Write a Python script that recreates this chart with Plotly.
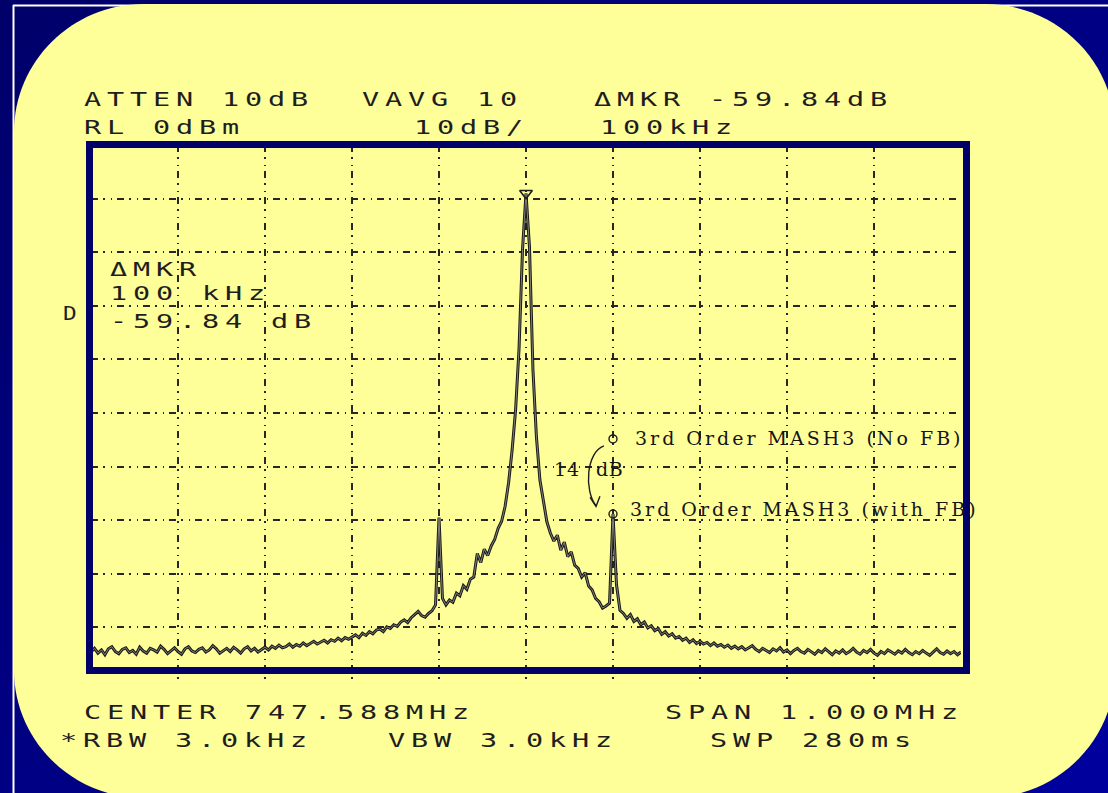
import base64
import json
import plotly.graph_objects as go

# ---------------------------------------------------------------------------
# Spectrum analyser sweep: 251 bins, 4 kHz apart, centred on the carrier
# ---------------------------------------------------------------------------
START_KHZ = -500
BIN_KHZ = 4

DELTA_MKR_DB = -59.84      # delta marker reading (carrier -> 100 kHz spur)
FB_GAIN_DB = 14            # spur improvement with feedback

carrier_peak = -9.0
spur_low = -69.5
spur_high = carrier_peak + DELTA_MKR_DB

floor_low = [
    -94.6, -93.9, -94.8, -94.2, -95.1, -94.0, -93.6, -94.5, -94.9, -94.1,
    -93.8, -94.7, -94.3, -95.0, -93.7, -94.4, -94.8, -93.9, -94.2, -94.6,
    -93.5, -94.1, -94.9, -94.3, -93.8, -94.5, -95.0, -94.0, -93.6, -94.4,
    -94.7, -94.1, -93.8, -94.6, -94.2, -93.4, -94.0, -94.8, -94.3, -93.9,
    -94.5, -93.7, -94.2, -94.8, -94.0, -93.6, -94.4, -93.9, -94.6, -94.1,
    -93.7, -94.2, -93.5, -93.9, -93.3, -93.8, -93.6, -93.1, -93.7, -93.2,
    -93.5, -92.9, -93.4, -93.0, -92.6, -93.1, -92.7, -92.4, -92.9, -92.3,
    -92.6, -92.0, -92.5, -91.9, -92.2,
]
skirt_low = [
    -91.8, -91.4, -91.9, -91.1, -91.5, -90.8, -91.2, -90.5, -90.3, -90.8,
    -89.9, -90.2, -89.5, -89.8, -89.0, -88.6, -89.1, -88.2, -87.6, -87.0,
    -87.8, -88.1, -87.4, -86.9, -85.8,
]
flank_low = [
    -84.6, -85.8, -84.9, -85.3, -83.6, -84.1, -82.2, -82.9, -81.0, -80.6,
    -76.2, -77.9, -75.4, -76.6, -74.8, -73.6, -71.5, -70.2, -67.4, -63.0,
    -57.0, -49.5, -38.0, -19.5,
]
flank_high = [
    -19.0, -42.0, -54.5, -62.5, -66.8, -70.3, -72.4, -73.9, -72.8, -75.6,
    -74.1, -76.8, -75.9, -78.4, -79.0, -80.6, -79.8, -82.3, -83.0, -84.6,
    -85.2, -86.4, -86.0, -85.5,
]
skirt_high = [
    -82.0, -86.8, -87.4, -88.3, -87.6, -88.9, -88.4, -89.5, -89.0, -90.1,
    -89.7, -90.6, -90.2, -91.3, -90.8, -91.6, -91.2, -92.0, -91.7, -92.4,
    -92.0, -92.8, -92.3, -93.0,
]
floor_high = [
    -92.6, -93.1, -92.8, -93.4, -92.9, -93.5, -93.2, -93.7, -93.3, -93.9,
    -93.5, -94.0, -93.6, -94.2, -93.8, -93.4, -94.1, -94.5, -93.9, -94.3,
    -94.7, -94.0, -94.4, -93.8, -94.6, -94.2, -94.9, -94.3, -93.9, -94.5,
    -94.8, -94.1, -94.6, -95.0, -94.3, -94.7, -94.0, -94.5, -95.1, -94.4,
    -94.8, -94.2, -94.9, -94.5, -93.9, -94.6, -95.0, -94.3, -94.7, -94.1,
    -94.8, -95.2, -94.5, -94.9, -94.2, -94.6, -95.0, -94.4, -94.8, -94.1,
    -94.7, -95.1, -94.5, -94.9, -94.3, -94.8, -95.2, -94.6, -94.0, -94.7,
    -95.0, -94.4, -94.9, -94.5, -95.1, -94.6,
]

trace_dbm = (floor_low + skirt_low + [spur_low] + flank_low + [carrier_peak]
             + flank_high + [spur_high] + skirt_high + floor_high)
sweep_khz = [START_KHZ + BIN_KHZ * i for i in range(len(trace_dbm))]

# graticule: 10 x 10 divisions, 100 kHz/div and 10 dB/div
freq_divs_khz = [-500, -400, -300, -200, -100, 0, 100, 200, 300, 400, 500]
level_divs_dbm = [0, -10, -20, -30, -40, -50, -60, -70, -80, -90, -100]

# marker positions taken from the sweep
pk_i = trace_dbm.index(max(trace_dbm))
pk_x, pk_y = sweep_khz[pk_i], trace_dbm[pk_i]
sb_i = trace_dbm.index(spur_high)
sb_x = sweep_khz[sb_i]
sb_lo = spur_high
sb_hi = spur_high + FB_GAIN_DB

# ---------------------------------------------------------------------------
# page geometry (pixels)
# ---------------------------------------------------------------------------
FIG_W, FIG_H = 1108, 793
L, T, W, H = 91, 145, 870, 536


def fx(px):
    return (px - L) / W


def fy(py):
    return 1 - (py - T) / H


INK = "#1c1c1c"
NAVY = "#000068"
PAPER = "#FFFF99"

fig = go.Figure()

# photocopied trace: dark outline with a pale core
fig.add_trace(go.Scatter(
    x=sweep_khz, y=trace_dbm, mode="lines",
    line=dict(color="#1a1a1a", width=3.0), hoverinfo="skip",
))
fig.add_trace(go.Scatter(
    x=sweep_khz, y=trace_dbm, mode="lines",
    line=dict(color="#8c8c80", width=0.9), hoverinfo="skip",
))
fig.add_trace(go.Scatter(
    x=[pk_x], y=[pk_y], mode="markers", hoverinfo="skip",
    marker=dict(symbol="triangle-down-open", size=11, color=INK,
                line=dict(color=INK, width=1.6)),
))
fig.add_trace(go.Scatter(
    x=[sb_x, sb_x], y=[sb_hi, sb_lo], mode="markers", hoverinfo="skip",
    marker=dict(symbol="circle-open", size=8, color=INK,
                line=dict(color=INK, width=1.4)),
))

# ---------------------------------------------------------------------------
# background: gradient slide, white rule lines, rounded yellow panel, frame
# ---------------------------------------------------------------------------
grad_svg = (
    '<svg xmlns="http://www.w3.org/2000/svg" width="1108" height="793">'
    '<defs><linearGradient id="g" x1="0" y1="0" x2="1" y2="1">'
    '<stop offset="0" stop-color="#00006a"/>'
    '<stop offset="1" stop-color="#00009e"/>'
    '</linearGradient></defs>'
    '<rect width="1108" height="793" fill="url(#g)"/></svg>'
)
grad_src = "data:image/svg+xml;base64," + base64.b64encode(grad_svg.encode()).decode()


def rounded_rect(x0, y0, x1, y1, rx, ry):
    k = 0.5523
    pts = [
        ("M", [(x0 + rx, y0)]),
        ("L", [(x1 - rx, y0)]),
        ("C", [(x1 - rx + k * rx, y0), (x1, y0 + ry - k * ry), (x1, y0 + ry)]),
        ("L", [(x1, y1 - ry)]),
        ("C", [(x1, y1 - ry + k * ry), (x1 - rx + k * rx, y1), (x1 - rx, y1)]),
        ("L", [(x0 + rx, y1)]),
        ("C", [(x0 + rx - k * rx, y1), (x0, y1 - ry + k * ry), (x0, y1 - ry)]),
        ("L", [(x0, y0 + ry)]),
        ("C", [(x0, y0 + ry - k * ry), (x0 + rx - k * rx, y0), (x0 + rx, y0)]),
    ]
    out = []
    for cmd, pp in pts:
        out.append(cmd + " " + " ".join(f"{fx(a):.5f},{fy(b):.5f}" for a, b in pp))
    return " ".join(out) + " Z"


shapes = [
    dict(type="line", xref="paper", yref="paper", layer="below",
         x0=fx(13.5), x1=fx(13.5), y0=fy(5), y1=fy(793),
         line=dict(color="white", width=2)),
    dict(type="line", xref="paper", yref="paper", layer="below",
         x0=fx(13), x1=fx(1108), y0=fy(5.5), y1=fy(5.5),
         line=dict(color="white", width=2)),
    dict(type="path", xref="paper", yref="paper", layer="below",
         path=rounded_rect(14, 4, 1115, 798, 130, 128),
         fillcolor=PAPER, line=dict(width=0)),
    dict(type="rect", xref="paper", yref="paper", layer="above",
         x0=fx(89.5), x1=fx(966.5), y0=fy(144.5), y1=fy(670.5),
         line=dict(color=NAVY, width=7), fillcolor="rgba(0,0,0,0)"),
    # hand-drawn curved arrow between the two spur levels
    dict(type="path", xref="x", yref="y", layer="above",
         path=(f"M {sb_x - 10.4},{sb_hi - 1.3} "
               f"C {sb_x - 31},{sb_hi - 2.5} {sb_x - 33.3},{sb_lo + 4.4} "
               f"{sb_x - 19.5},{sb_lo + 1.5}"),
         line=dict(color=INK, width=1.4)),
    dict(type="path", xref="x", yref="y", layer="above",
         path=(f"M {sb_x - 26.4},{sb_lo + 3.1} L {sb_x - 19.5},{sb_lo + 1.4} "
               f"L {sb_x - 15},{sb_lo + 3.3}"),
         line=dict(color=INK, width=1.4)),
]

# ---------------------------------------------------------------------------
# screen text
# ---------------------------------------------------------------------------
annotations = []
stretch = []   # per annotation: (horizontal scale, letter spacing px)

MONO = dict(family="DejaVu Sans Mono", size=19, color="#1e1e1e")
SERIF = dict(family="DejaVu Serif", size=19, color="#151515")


def screen_text(text, px, py, font=MONO, scale=1.5, spacing=3.9):
    annotations.append(dict(
        text=text, xref="paper", yref="paper", x=fx(px), y=fy(py),
        xanchor="left", yanchor="middle", align="left", showarrow=False,
        font=font))
    stretch.append([scale, spacing])


def note(text, x, y, font=SERIF, spacing=3.0):
    annotations.append(dict(
        text=text, xref="x", yref="y", x=x, y=y,
        xanchor="left", yanchor="middle", align="left", showarrow=False,
        font=font))
    stretch.append([1.0, spacing])


mkr_txt = f"{DELTA_MKR_DB:.2f}"
screen_text("ATTEN 10dB", 82, 99)
screen_text("VAVG 10", 360, 99)
screen_text(f"ΔMKR {mkr_txt}dB", 592, 99)
screen_text("RL 0dBm", 82, 127)
screen_text("10dB/", 412, 127)
screen_text("100kHz", 598, 127)
screen_text("CENTER 747.588MHz", 82, 712)
screen_text("SPAN 1.000MHz", 663, 712)
screen_text("*RBW 3.0kHz", 58, 740)
screen_text("VBW 3.0kHz", 386, 740)
screen_text("SWP 280ms", 708, 740)
screen_text("ΔMKR", 108, 269)
screen_text("100 kHz", 108, 293)
screen_text(f"{mkr_txt} dB", 108, 321)
screen_text("D", 61, 313, scale=1.2, spacing=0)

note("3rd Order MASH3 (No FB)", sb_x + 23, sb_hi + 0.2)
note("3rd Order MASH3 (with FB)", sb_x + 17, sb_lo + 0.9)
note(f"{FB_GAIN_DB}", sb_x - 70, sb_lo + 8.3, spacing=1.0)
note("dB", sb_x - 22, sb_lo + 8.4, spacing=0.5)

axis_common = dict(
    showticklabels=False, ticks="", zeroline=False, showline=False,
    showgrid=True, gridcolor="#262626", gridwidth=1.5,
    griddash="7px,5px,2px,6px,1px,5px", fixedrange=True,
)

fig.update_layout(
    width=FIG_W, height=FIG_H,
    margin=dict(l=L, r=FIG_W - L - W, t=T, b=FIG_H - T - H, pad=0),
    paper_bgcolor="#000080", plot_bgcolor="rgba(0,0,0,0)",
    showlegend=False,
    xaxis=dict(range=[START_KHZ, -START_KHZ], tickvals=freq_divs_khz, **axis_common),
    yaxis=dict(range=[-100, 0], tickvals=level_divs_dbm, **axis_common),
    shapes=shapes,
    annotations=annotations,
    images=[dict(source=grad_src, xref="paper", yref="paper",
                 x=fx(0), y=fy(0), sizex=FIG_W / W, sizey=FIG_H / H,
                 xanchor="left", yanchor="top", sizing="stretch",
                 layer="below")],
)

# widen the instrument lettering (horizontal stretch + tracking)
post = """
var gd = document.getElementById('{plot_id}');
var spec = %s;
gd.querySelectorAll('g.annotation').forEach(function (g) {
  var i = parseInt(g.getAttribute('data-index'), 10);
  var s = spec[i];
  if (!s) return;
  var t = g.querySelector('text.annotation-text');
  if (!t) return;
  t.setAttribute('letter-spacing', s[1]);
  t.style.letterSpacing = s[1] + 'px';
  var x0 = parseFloat(t.getAttribute('x')) || 0;
  t.setAttribute('transform', 'translate(' + x0 + ',0) scale(' + s[0] + ',1) translate(' + (-x0) + ',0)');
});
""" % json.dumps(stretch)

fig.write_html("out.html", post_script=post, config={"displayModeBar": False})
